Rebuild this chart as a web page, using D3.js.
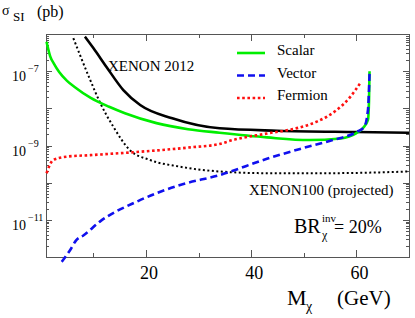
<!doctype html>
<html lang="en">
<head>
<meta charset="utf-8">
<title>sigma SI vs M chi</title>
<style>
 body{ margin:0; background:#fff; }
 svg text{ font-family: "Liberation Serif", "Times New Roman", serif; fill:#000; }
 .tick line{ stroke:#555; shape-rendering: crispEdges; }
 .domain{ display:none; }
</style>
</head>
<body>
<div id="chart"></div>
<script src="https://d3js.org/d3.v7.min.js"></script>
<script>

// M_chi (GeV) and sigma_SI (pb)
var scalarM = [1.1, 1.8, 2.5, 3.5, 5, 6.5, 9.5, 13, 16, 22, 28, 34, 43, 51, 57, 60, 61.3, 62.2, 62.4, 62.5];
var scalarS = [6.2e-7, 2.5e-7, 1.6e-7, 9.5e-8, 5.5e-8, 3.7e-8, 1.9e-8, 1.1e-8, 7.4e-9, 4.0e-9, 2.75e-9, 2.2e-9, 1.65e-9, 1.4e-9, 1.55e-9, 2.15e-9, 3.0e-9, 4.9e-9, 1.65e-8, 1.0e-7];

var vectorM = [4.0, 5.6, 6.8, 8.1, 11.3, 18.5, 26.5, 34, 43, 49.3, 55.5, 60, 61.5, 62.2, 62.5];
var vectorS = [7.4e-13, 1.55e-12, 2.9e-12, 3.8e-12, 9.1e-12, 3.2e-11, 8.7e-11, 1.6e-10, 4.4e-10, 8.1e-10, 1.4e-9, 2.3e-9, 3.2e-9, 9.1e-9, 8.7e-8];

var fermionM = [1.1, 2.4, 4.9, 9.4, 18.9, 28.4, 34, 36.5, 43, 49, 52.5, 56.3, 58.8, 60.7];
var fermionS = [1.8e-10, 4.1e-10, 5.0e-10, 5.5e-10, 6.8e-10, 8.9e-10, 1.1e-9, 1.4e-9, 2.1e-9, 3.0e-9, 4.4e-9, 9.1e-9, 2.0e-8, 4.7e-8];

var xenon2012M = [8.4, 10, 12.5, 15.7, 18.9, 25, 34, 45, 60, 70];
var xenon2012S = [8.5e-7, 4.2e-7, 1.3e-7, 3.1e-8, 1.23e-8, 5.4e-9, 2.9e-9, 2.5e-9, 2.3e-9, 2.2e-9];

var xenon100M = [6.2, 9.4, 11.3, 13.8, 16.9, 20.7, 26.4, 34, 43, 55, 70];
var xenon100S = [7.7e-7, 5.8e-8, 1.4e-8, 3.2e-9, 7.6e-10, 4.1e-10, 2.7e-10, 2.0e-10, 1.8e-10, 1.8e-10, 2.0e-10];

var xMajor = [20, 40, 60];
var xMinor = [10, 30, 50];
var yLabelExp = [-7, -9, -11];
var legendNames = ['Scalar', 'Vector', 'Fermion'];

var chartWidth = 415;
var chartHeight = 318;
var plotL = 46, plotR = 409, plotT = 34, plotB = 257;

var svg = d3.select('#chart')
  .append('svg')
  .attr('width', chartWidth)
  .attr('height', chartHeight);

var xscale = d3.scaleLinear().domain([1, 70]).range([plotL, plotR]);
var yscale = d3.scaleLog().domain([1e-12, 1e-6]).range([plotB, plotT]);

var yAll = yscale.ticks();
var yMajor = yAll.filter(function(d){ return Math.abs(Math.log10(d) - Math.round(Math.log10(d))) < 1e-6; });
var yMinorT = yAll.filter(function(d){ return yMajor.indexOf(d) < 0; });

// ticks, pointing inwards on all four sides
function addAxis(axis, tx, ty){
  svg.append('g').attr('transform', 'translate(' + tx + ',' + ty + ')').call(axis);
}
addAxis(d3.axisBottom(xscale).tickValues(xMajor).tickSize(-7).tickFormat(''), 0, plotB);
addAxis(d3.axisBottom(xscale).tickValues(xMinor).tickSize(-4).tickFormat(''), 0, plotB);
addAxis(d3.axisTop(xscale).tickValues(xMajor).tickSize(-7).tickFormat(''), 0, plotT);
addAxis(d3.axisTop(xscale).tickValues(xMinor).tickSize(-4).tickFormat(''), 0, plotT);
addAxis(d3.axisLeft(yscale).tickValues(yMajor).tickSize(-6).tickFormat(''), plotL, 0);
addAxis(d3.axisLeft(yscale).tickValues(yMinorT).tickSize(-3).tickFormat(''), plotL, 0);
addAxis(d3.axisRight(yscale).tickValues(yMajor).tickSize(-6).tickFormat(''), plotR, 0);
addAxis(d3.axisRight(yscale).tickValues(yMinorT).tickSize(-3).tickFormat(''), plotR, 0);

svg.append('rect')
  .attr('x', plotL).attr('y', plotT)
  .attr('width', plotR - plotL).attr('height', plotB - plotT)
  .attr('fill', 'none').attr('stroke', '#555').attr('stroke-width', 1)
  .attr('shape-rendering', 'crispEdges');

// x tick labels
svg.selectAll('.xlab')
  .data(xMajor)
  .enter()
  .append('text')
  .attr('x', function(d){ return xscale(d) + 3; })
  .attr('y', 279)
  .attr('text-anchor', 'middle')
  .attr('font-size', 18)
  .text(function(d){ return d; });

// y tick labels 10^n
yLabelExp.forEach(function(e){
  var yy = yscale(Math.pow(10, e));
  svg.append('text').attr('x', 26).attr('y', yy + 10)
    .attr('text-anchor', 'end').attr('font-size', 14).text('10');
  svg.append('text').attr('x', 28).attr('y', yy + 1)
    .attr('font-size', 10).text('\u2212' + (-e));
});

// axis titles
svg.append('text').attr('x', 2).attr('y', 15).attr('font-size', 14).text('\u03c3');
svg.append('text').attr('x', 13).attr('y', 21).attr('font-size', 13).text('SI');
svg.append('text').attr('x', 37).attr('y', 17).attr('font-size', 16).text('(pb)');

svg.append('text').attr('x', 287).attr('y', 305).attr('font-size', 22).text('M');
svg.append('text').attr('x', 306).attr('y', 311).attr('font-size', 14).text('\u03c7');
svg.append('text').attr('x', 337).attr('y', 305).attr('font-size', 21).text('(GeV)');

// curves
var line = d3.line()
  .x(function(d){ return xscale(d[0]); })
  .y(function(d){ return yscale(d[1]); })
  .curve(d3.curveMonotoneX);

function zip(a, b){ return a.map(function(v, i){ return [v, b[i]]; }); }

svg.append('path').datum(zip(xenon100M, xenon100S))
  .attr('d', line).attr('fill', 'none').attr('stroke', '#000')
  .attr('stroke-width', 2).attr('stroke-dasharray', '2,2.5');

svg.append('path').datum(zip(xenon2012M, xenon2012S))
  .attr('d', line).attr('fill', 'none').attr('stroke', '#000')
  .attr('stroke-width', 2.6);

svg.append('path').datum(zip(scalarM, scalarS))
  .attr('d', line).attr('fill', 'none').attr('stroke', '#00ee00')
  .attr('stroke-width', 2.6);

svg.append('path').datum(zip(fermionM, fermionS))
  .attr('d', line).attr('fill', 'none').attr('stroke', '#ff1010')
  .attr('stroke-width', 2.6).attr('stroke-dasharray', '2.6,2.6');

svg.append('path').datum(zip(vectorM, vectorS))
  .attr('d', line).attr('fill', 'none').attr('stroke', '#1010ee')
  .attr('stroke-width', 2.6).attr('stroke-dasharray', '7,4');

// legend
var legendStyle = [
  {color: '#00ee00', dash: null},
  {color: '#1010ee', dash: '7,4'},
  {color: '#ff1010', dash: '2.6,2.6'}
];
legendNames.forEach(function(name, i){
  var ly = 53 + i * 22.5;
  svg.append('line').attr('x1', 237).attr('x2', 265).attr('y1', ly).attr('y2', ly)
    .attr('stroke', legendStyle[i].color).attr('stroke-width', 2.6)
    .attr('stroke-dasharray', legendStyle[i].dash);
  svg.append('text').attr('x', 277).attr('y', ly + 2).attr('font-size', 15).text(name);
});

// annotations
svg.append('text').attr('x', 108).attr('y', 71).attr('font-size', 15).text('XENON 2012');
svg.append('text').attr('x', 249).attr('y', 195).attr('font-size', 15).text('XENON100 (projected)');

svg.append('text').attr('x', 294).attr('y', 233).attr('font-size', 20).text('BR');
svg.append('text').attr('x', 322).attr('y', 222).attr('font-size', 11).text('inv');
svg.append('text').attr('x', 322).attr('y', 239).attr('font-size', 12).text('\u03c7');
svg.append('text').attr('x', 334).attr('y', 233).attr('font-size', 18).text('= 20%');

</script>
</body>
</html>
